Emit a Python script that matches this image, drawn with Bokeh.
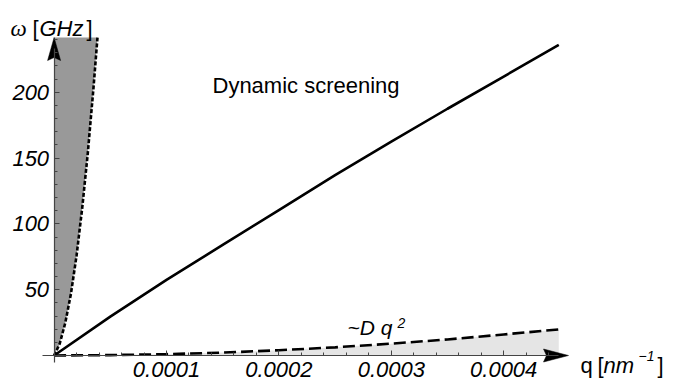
from bokeh.plotting import figure
from bokeh.models import Range1d, LinearAxis, FixedTicker, PrintfTickFormatter, Label
from bokeh.embed import file_html
from bokeh.resources import INLINE

# ---------------- data ----------------
q_dyn = [0, 0.00005, 0.0001, 0.00015, 0.0002, 0.00025, 0.0003, 0.00035, 0.0004, 0.000449]
w_dyn = [0, 29.5, 57.5, 84, 110.5, 137, 162.5, 187.5, 212, 236]

q_diff = [0, 0.00005, 0.0001, 0.00015, 0.0002, 0.00025, 0.0003, 0.00035, 0.0004, 0.000449]
w_diff = [0, 0.3, 1.0, 2.2, 4.0, 6.2, 9.0, 12.2, 16.0, 19.8]

q_bound = [0, 0.000005, 0.00001, 0.000015, 0.00002, 0.000025, 0.00003, 0.000035, 0.0000386]
w_bound = [0, 9, 25, 47, 76, 112, 154, 203, 241.6]

x_ticks = [0.0001, 0.0002, 0.0003, 0.0004]
x_minor = [0.00002, 0.00004, 0.00006, 0.00008, 0.00012, 0.00014, 0.00016, 0.00018,
           0.00022, 0.00024, 0.00026, 0.00028, 0.00032, 0.00034, 0.00036, 0.00038,
           0.00042, 0.00044]
y_ticks = [50, 100, 150, 200]
y_minor = [10, 20, 30, 40, 60, 70, 80, 90, 110, 120, 130, 140, 160, 170, 180, 190,
           210, 220, 230, 240]

label_dyn = "Dynamic screening"
label_diff = "~D q"
label_diff_sup = "2"

# ---------------- layout ----------------
W, H = 680, 384          # canvas placed at page origin
OX, OY = 53.6, 355.0     # origin in page pixels
SX, SY = 1.124e6, 1.316  # pixels per data unit

def q_at(X):
    return (X - OX) / SX

def w_at(Y):
    return (OY - Y) / SY

p = figure(width=W, height=H, output_backend="svg", toolbar_location=None,
           x_range=Range1d(q_at(0), q_at(W)), y_range=Range1d(w_at(H), w_at(0)),
           x_axis_location=None, y_axis_location=None, min_border=0)
p.outline_line_color = None
p.grid.visible = False
p.background_fill_color = "white"

# shaded regions
p.varea(x=q_diff, y1=[0] * len(q_diff), y2=w_diff, fill_color="#e5e5e5")
p.harea(y=w_bound, x1=[0] * len(w_bound), x2=q_bound, fill_color="#999999")

# curves
p.line(q_dyn, w_dyn, line_color="black", line_width=2.6)
p.line(q_diff, w_diff, line_color="black", line_width=2.6, line_dash="12 5")
p.line(q_bound, w_bound, line_color="black", line_width=2.6, line_dash="4 2")

AX = "#444444"
FONT = "Liberation Sans"

xaxis = LinearAxis(fixed_location=0,
                   ticker=FixedTicker(ticks=x_ticks, minor_ticks=x_minor),
                   formatter=PrintfTickFormatter(format="%.4f"),
                   bounds=(q_at(42), q_at(558)))
yaxis = LinearAxis(fixed_location=0,
                   ticker=FixedTicker(ticks=y_ticks, minor_ticks=y_minor),
                   formatter=PrintfTickFormatter(format="%d"),
                   bounds=(w_at(362), w_at(48)))
for ax in (xaxis, yaxis):
    ax.axis_line_color = AX
    ax.axis_line_width = 1.2
    ax.major_tick_in = 5
    ax.major_tick_out = 0
    ax.minor_tick_in = 3
    ax.minor_tick_out = 0
    ax.major_tick_line_color = AX
    ax.minor_tick_line_color = AX
    ax.major_label_text_font = FONT
    ax.major_label_text_font_size = "22px"
    ax.major_label_text_font_style = "italic"
    ax.major_label_text_color = "black"
xaxis.major_label_standoff = 6
yaxis.major_label_standoff = 5
p.add_layout(xaxis, "below")
p.add_layout(yaxis, "left")

# arrow heads (axis decorations)
def arrow_x(tipX, length, half, notch):
    xs = [q_at(tipX), q_at(tipX - length), q_at(tipX - length + notch), q_at(tipX - length)]
    ys = [0, half / SY, 0, -half / SY]
    return xs, ys

def arrow_y(tipY, length, half, notch):
    xs = [0, half / SX, 0, -half / SX]
    ys = [w_at(tipY), w_at(tipY + length), w_at(tipY + length - notch), w_at(tipY + length)]
    return xs, ys

ax_x, ax_y = arrow_x(568, 25, 6.5, 3)
p.patch(ax_x, ax_y, fill_color="black", line_color="black", line_width=0.5)
ay_x, ay_y = arrow_y(37, 23, 6.5, 3)
p.patch(ay_x, ay_y, fill_color="black", line_color="black", line_width=0.5)

def lab(X, Y, text, size="22px", style="normal", font=FONT):
    p.add_layout(Label(x=q_at(X), y=w_at(Y), text=text, text_font=font,
                       text_font_size=size, text_font_style=style,
                       text_color="black", text_baseline="alphabetic",
                       text_align="left"))

# annotations
lab(212, 85, label_dyn, "22px")
lab(347, 327, label_diff, "21px", "italic")
lab(397, 322, label_diff_sup, "14px", "italic")

# axis labels
lab(10, 28, "ω", "23px", "italic", "Liberation Serif")
lab(32, 28, "[", "22px")
lab(39, 28, "GHz", "22px", "italic")
lab(86, 28, "]", "22px")

lab(580, 365, "q", "22px")
lab(597, 365, "[", "22px")
lab(603, 365, "nm", "22px", "italic")
lab(638, 355, "−1", "14px", "italic")
lab(657, 365, "]", "22px")

open("out.html", "w").write(file_html(p, INLINE))
